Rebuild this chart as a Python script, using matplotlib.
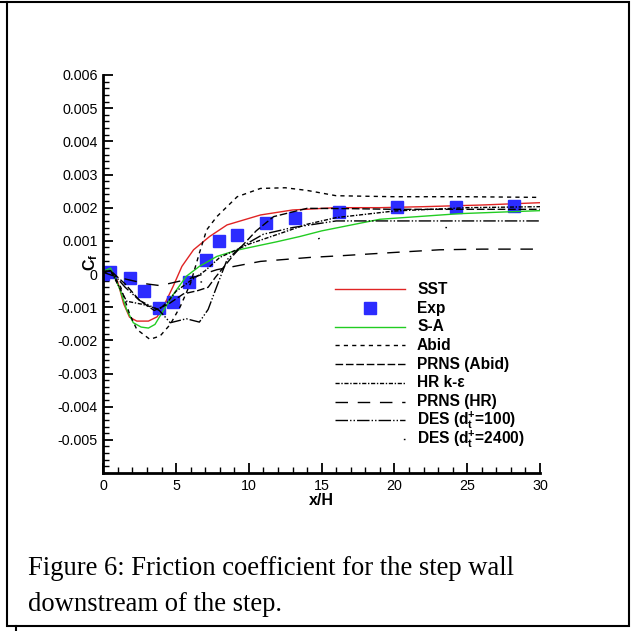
import matplotlib
matplotlib.use("Agg")
import matplotlib.pyplot as plt
from matplotlib.patches import Rectangle
from matplotlib.lines import Line2D
import numpy as np

# ---------------- data ----------------
sst_x = [0, 0.5, 1.0, 1.4, 1.8, 2.3, 3.1, 3.7, 4.2, 4.8, 5.4, 6.2, 7.3, 8.5, 10.8, 13, 16, 19, 22, 26, 30]
sst_y = [0.00008, 0.00018, -0.00025, -0.0009, -0.0013, -0.00142, -0.00142, -0.00129, -0.00092, -0.00037,
         0.00023, 0.00073, 0.00113, 0.00148, 0.00178, 0.00193, 0.00200, 0.00200, 0.00203, 0.00208, 0.00215]

exp_x = [0, 0.46, 1.8, 2.8, 3.85, 4.8, 5.9, 7.05, 7.95, 9.2, 11.2, 13.2, 16.2, 20.2, 24.2, 28.2]
exp_y = [0.0, 0.00006, -0.00012, -0.00052, -0.00104, -0.00084, -0.00024, 0.00043, 0.00101, 0.00118,
         0.00153, 0.00170, 0.00188, 0.00201, 0.00201, 0.00205]

sa_x = [0, 0.5, 1.15, 1.6, 2.06, 2.6, 3.1, 3.55, 4.1, 4.8, 5.7, 6.6, 7.8, 9.2, 11.9, 13.5, 15, 19, 24.5, 30]
sa_y = [0.00008, 0.00018, -0.00047, -0.00107, -0.00147, -0.0016, -0.00163, -0.00152, -0.00112, -0.00062,
        -0.00007, 0.00023, 0.00053, 0.00072, 0.00097, 0.00113, 0.0013, 0.00165, 0.00182, 0.00191]

abid_x = [0, 0.5, 1.2, 1.8, 2.3, 3.2, 3.9, 4.6, 5.3, 6.0, 6.6, 7.1, 7.8, 9.2, 10.8, 12.5, 14, 16, 20, 25, 30]
abid_y = [0.00008, 0.0001, -0.0004, -0.0012, -0.00167, -0.00197, -0.00187, -0.00152, -0.00097, -0.00027,
          0.00063, 0.00133, 0.00173, 0.00233, 0.00258, 0.0026, 0.00252, 0.00236, 0.00233, 0.00233, 0.00231]

prnsa_x = [0, 0.5, 1.5, 2.5, 3.5, 4.5, 5.5, 6.5, 7.2, 7.7, 9, 10.5, 11.7, 14, 17, 20, 25, 30]
prnsa_y = [0.00005, 0.0001, -0.0003, -0.0008, -0.0011, -0.0009, -0.0006, -0.0005, -0.0004, -0.0001,
           0.0006, 0.0013, 0.00173, 0.00198, 0.00197, 0.00195, 0.00195, 0.00195]

hrke_x = [0, 0.5, 1.6, 2.75, 3.85, 4.5, 5.0, 6.0, 7.0, 8.0, 10, 12, 14, 16, 18, 20, 25, 30]
hrke_y = [0.00005, 0.0001, -0.00082, -0.00092, -0.00107, -0.0008, -0.00052, -0.0002, 0.0001, 0.0005,
          0.0009, 0.0012, 0.0015, 0.0017, 0.0018, 0.0019, 0.002, 0.00203]

prnshr_x = [0, 1, 2, 3, 3.9, 5.7, 7.8, 10.8, 14.2, 16.3, 20, 23.1, 26, 30]
prnshr_y = [0.00005, -0.0001, -0.0002, -0.0003, -0.00035, -0.00017, 0.00013, 0.00038, 0.0005, 0.00055,
            0.00065, 0.00073, 0.00075, 0.00075]

des100_x = [0, 0.5, 1.5, 2.5, 3.85, 4.6, 5.7, 6.6, 7.2, 7.8, 8.5, 9.4, 11, 13, 16, 20, 25, 30]
des100_y = [0.00005, 0.0001, -0.0004, -0.0008, -0.0011, -0.00147, -0.00135, -0.00145, -0.00107, -0.00037,
            0.00043, 0.0008, 0.0012, 0.0014, 0.0016, 0.0016, 0.0016, 0.0016]

des2400_x = [0, 1, 2, 3, 4, 5, 6, 7, 8, 9, 10, 12, 15, 18, 21.4, 25, 30]
des2400_y = [0.00005, -0.0001, -0.0003, -0.0004, -0.0004, -0.0003, -0.00024, -0.00024, -0.00024, -0.0002,
             0.0001, 0.0006, 0.0011, 0.0013, 0.0014, 0.0014, 0.0014]

labels = ['SST', 'Exp', 'S-A', 'Abid', 'PRNS (Abid)', 'HR k-ε', 'PRNS (HR)',
          r'DES (d$_\mathbf{t}^\mathbf{+}$=100)', r'DES (d$_\mathbf{t}^\mathbf{+}$=2400)']

yticks = [-0.005, -0.004, -0.003, -0.002, -0.001, 0, 0.001, 0.002, 0.003, 0.004, 0.005, 0.006]
yticklabels = ["-0.005", "-0.004", "-0.003", "-0.002", "-0.001", "0",
               "0.001", "0.002", "0.003", "0.004", "0.005", "0.006"]
xticks = [0, 5, 10, 15, 20, 25, 30]

# ---------------- figure ----------------
plt.rcParams['font.family'] = ['Liberation Sans', 'DejaVu Sans']
plt.rcParams['mathtext.fontset'] = 'custom'
plt.rcParams['mathtext.rm'] = 'Liberation Sans:bold'
plt.rcParams['mathtext.bf'] = 'Liberation Sans:bold'
plt.rcParams['mathtext.it'] = 'Liberation Sans:bold'
fig = plt.figure(figsize=(6.31, 6.31), dpi=100)
W = H = 631.0
AX_L, AX_R, AX_T, AX_B = 103.3, 540.0, 75.0, 473.0
ax = fig.add_axes([AX_L / W, 1 - AX_B / H, (AX_R - AX_L) / W, (AX_B - AX_T) / H])

lw = 1.0
handles = []
handles += ax.plot(sst_x, sst_y, color='#e02424', lw=lw)
handles += ax.plot(exp_x, exp_y, ls='none', marker='s', ms=8, color='#2c2cff', mec='#2c2cff')
handles += ax.plot(sa_x, sa_y, color='#22cc22', lw=lw)
handles += ax.plot(abid_x, abid_y, color='black', lw=lw, dashes=(3, 3))
handles += ax.plot(prnsa_x, prnsa_y, color='black', lw=lw, dashes=(5.5, 2))
handles += ax.plot(hrke_x, hrke_y, color='black', lw=lw, dashes=(3, 1.2, 1, 1.2))
handles += ax.plot(prnshr_x, prnshr_y, color='black', lw=lw, dashes=(9, 7))
handles += ax.plot(des100_x, des100_y, color='black', lw=lw, dashes=(9, 1.5, 1, 1.5, 1, 1.5))
handles += ax.plot(des2400_x, des2400_y, color='black', lw=lw, ls=(20, (1.2, 91)))

ax.set_xlim(0, 30)
ax.set_ylim(-0.006, 0.006)
ax.set_xticks(xticks)
ax.set_xticklabels([str(v) for v in xticks])
ax.set_yticks(yticks)
ax.set_yticklabels(yticklabels)
ax.set_xticks(np.arange(0, 31, 1), minor=True)
ax.set_yticks(np.arange(-0.006, 0.0061, 0.0002), minor=True)
for s in ['top', 'right']:
    ax.spines[s].set_visible(False)
for s in ['left', 'bottom']:
    ax.spines[s].set_linewidth(2.0)
ax.tick_params(which='major', direction='in', length=7.5, width=1.3, labelsize=10.3, pad=4)
ax.tick_params(which='minor', direction='in', length=4, width=1.0)
ax.set_xlabel('x/H', fontweight='bold', fontsize=11.5, labelpad=0)
ax.set_ylabel(r'C$_\mathbf{f}$', fontweight='bold', fontsize=11.5)
ax.yaxis.label.set(ha='center', va='center', rotation_mode='default')
ax.yaxis.set_label_coords((91 - AX_L) / (AX_R - AX_L), (AX_B - 262) / (AX_B - AX_T))

# ---------------- legend (manual layout) ----------------
lx0 = (335 - AX_L) / (AX_R - AX_L)
lx1 = (405 - AX_L) / (AX_R - AX_L)
ltx = (417 - AX_L) / (AX_R - AX_L)
for i, (h, lab) in enumerate(zip(handles, labels)):
    ypx = 289.3 + 18.7 * i
    yy = (AX_B - ypx) / (AX_B - AX_T)
    if lab == 'Exp':
        ln = Line2D([(lx0 + lx1) / 2], [yy])
    else:
        ln = Line2D([lx0, lx1], [yy, yy])
    ln.update_from(h)
    if i == 8:
        ln.set_linestyle((42, (1.2, 90)))
    ln.set_transform(ax.transAxes)
    ln.set_clip_on(False)
    ax.add_line(ln)
    ax.text(ltx, yy, lab, transform=ax.transAxes, fontsize=11.2, fontweight='bold',
            ha='left', va='center')

# outer frame and caption
fig.patches.append(Rectangle((7 / W, 1 - 626 / H), (629 - 7) / W, (626 - 2) / H,
                             transform=fig.transFigure, fill=False, lw=1.5, ec='black'))
fig.add_artist(Line2D([0, 7 / W], [1 - 2 / H, 1 - 2 / H], transform=fig.transFigure, color='black', lw=1.5))
fig.add_artist(Line2D([16 / W, 16 / W], [0, 1 - 626 / H], transform=fig.transFigure, color='black', lw=1.5))
fig.text(28 / W, 1 - 575 / H, 'Figure 6: Friction coefficient for the step wall',
         family=['Liberation Serif'], fontsize=19.2, va='baseline', ha='left')
fig.text(28 / W, 1 - 611 / H, 'downstream of the step.',
         family=['Liberation Serif'], fontsize=19.2, va='baseline', ha='left')

fig.savefig('out.png', dpi=100)
